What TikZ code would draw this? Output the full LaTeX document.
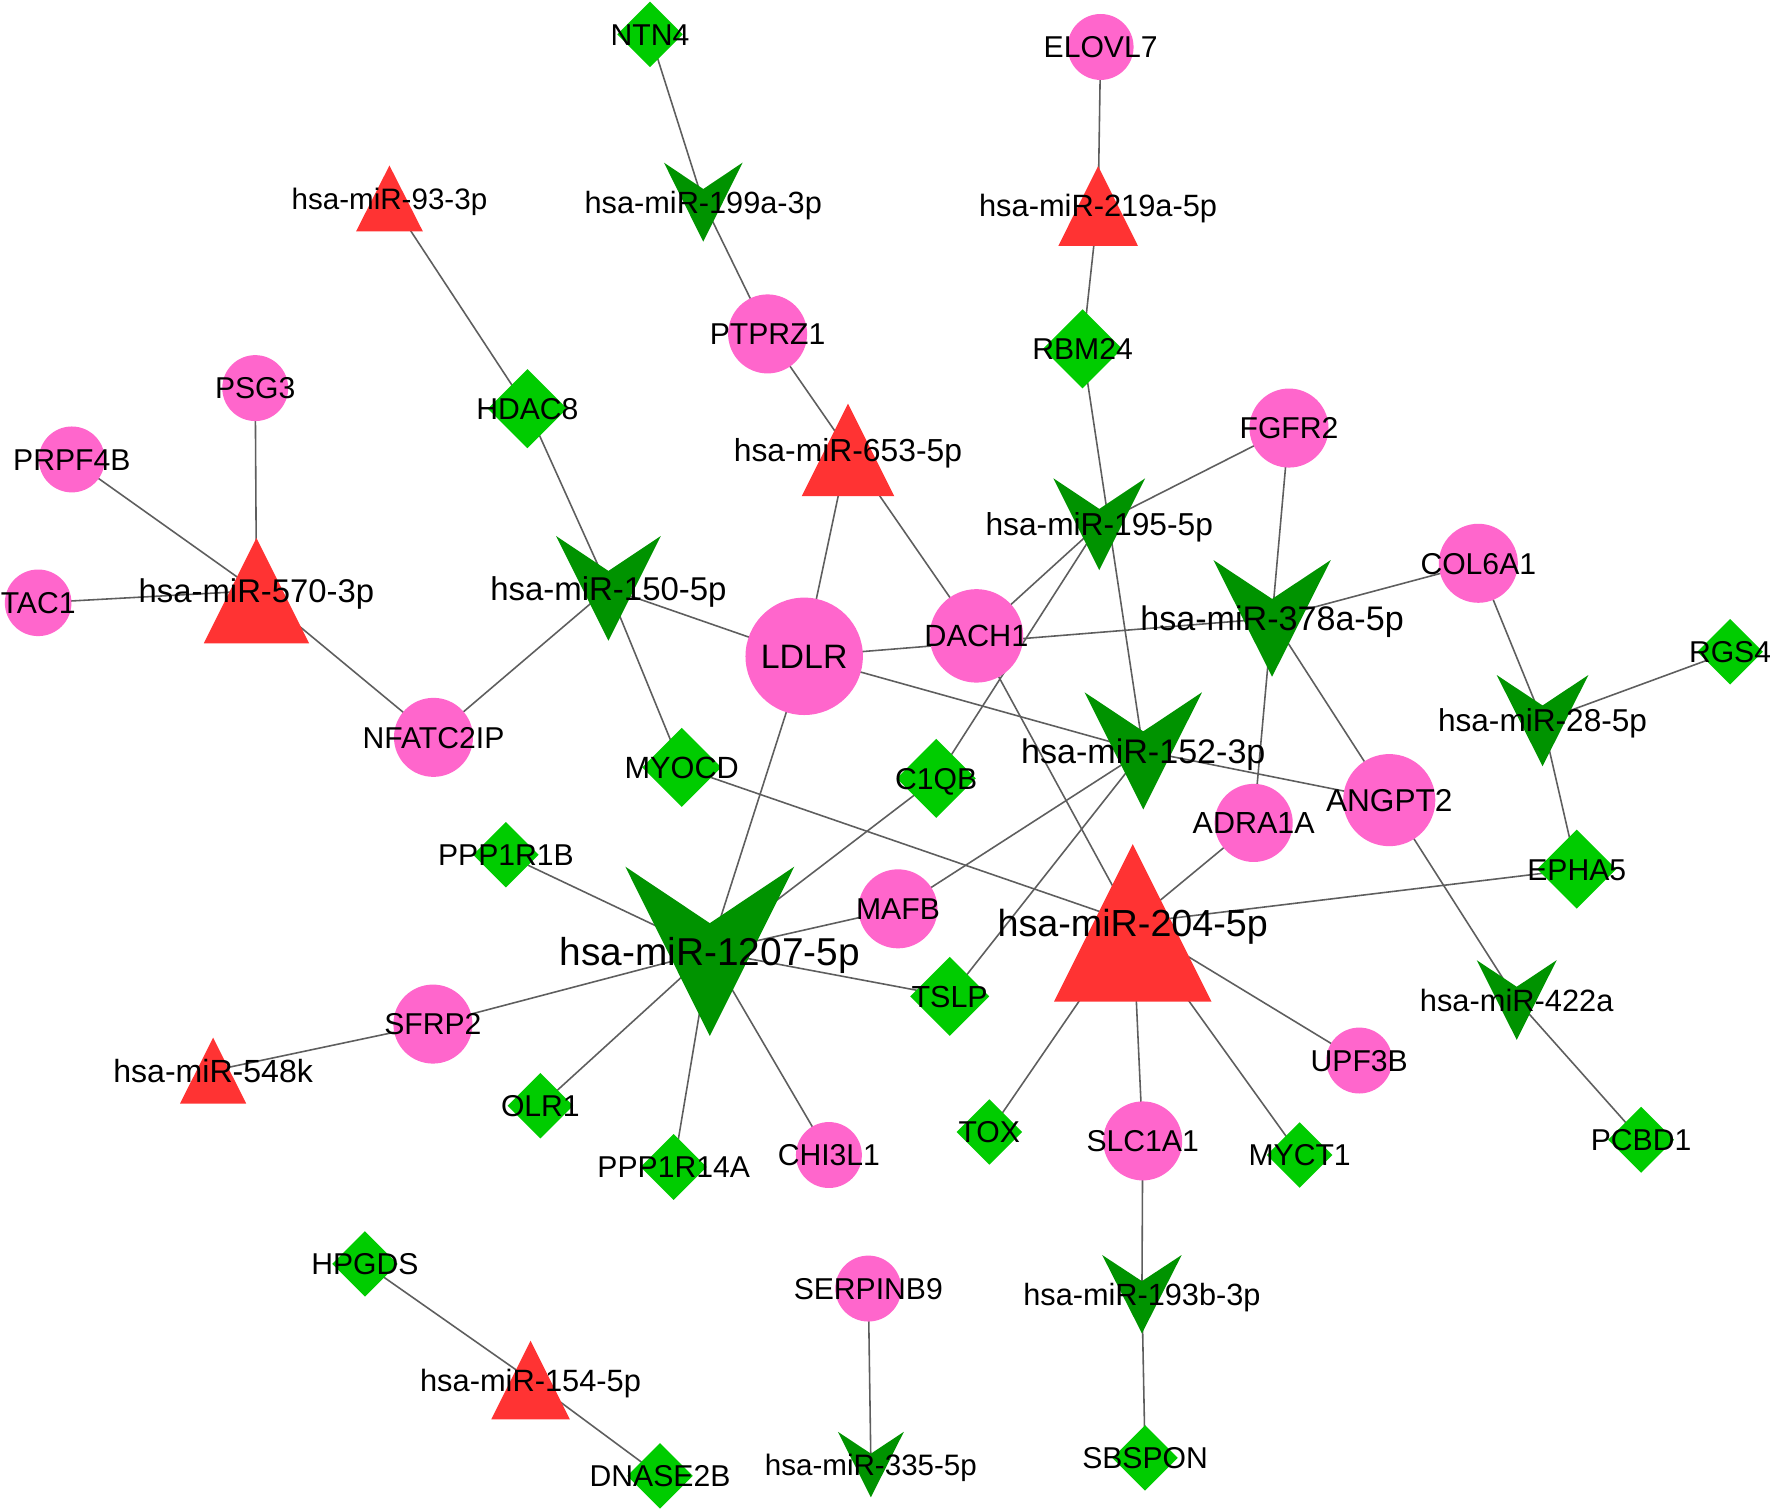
\documentclass[tikz,border=0pt]{standalone}
\usepackage{fontspec}
\setmainfont{Liberation Sans}
\pgfdeclarelayer{bglayer}
\pgfdeclarelayer{edgelayer}
\pgfdeclarelayer{shapelayer}
\pgfsetlayers{bglayer,edgelayer,shapelayer,main}
\definecolor{genepink}{HTML}{FF66CC}
\definecolor{diagreen}{HTML}{00CC00}
\definecolor{vgreen}{HTML}{009300}
\definecolor{trired}{HTML}{FF3333}
\definecolor{edgegray}{HTML}{5E5E5E}
\tikzset{
  lbl/.style={inner sep=0pt, text depth=0pt, text=black},
  genefill/.style={fill=genepink},
  diafill/.style={fill=diagreen},
  vfill/.style={fill=vgreen},
  trifill/.style={fill=trired},
  link/.style={draw=edgegray, line width=1.4pt},
}
\newcommand\fsz[1]{\fontsize{#1}{#1}\selectfont}
% name, x, y, radius, font size, label
\newcommand\Gene[6]{%
  \begin{pgfonlayer}{shapelayer}\fill[genefill] (#2,#3) circle[radius=#4pt];\end{pgfonlayer}
  \node[lbl,font=\fsz{#5},text height={0.716*#5pt}] (#1) at (#2,#3) {#6};}
% name, x, y, half size, font size, label
\newcommand\Dia[6]{%
  \begin{pgfonlayer}{shapelayer}\fill[diafill,shift={(#2,#3)}] (0,-#4) -- (#4,0) -- (0,#4) -- (-#4,0) -- cycle;\end{pgfonlayer}
  \node[lbl,font=\fsz{#5},text height={0.716*#5pt}] (#1) at (#2,#3) {#6};}
% name, x, y, half width, half height, font size, label
\newcommand\Tri[7]{%
  \begin{pgfonlayer}{shapelayer}\fill[trifill,shift={(#2,#3)}] (0,-#5) -- (#4,#5) -- (-#4,#5) -- cycle;\end{pgfonlayer}
  \node[lbl,font=\fsz{#6},text height={0.716*#6pt}] (#1) at (#2,#3) {#7};}
\newcommand\Vee[7]{%
  \begin{pgfonlayer}{shapelayer}\fill[vfill,shift={(#2,#3)}] (-#4,-#5) -- (0,{-#5/3}) -- (#4,-#5) -- (0,#5) -- cycle;\end{pgfonlayer}
  \node[lbl,font=\fsz{#6},text height={0.716*#6pt}] (#1) at (#2,#3) {#7};}

\begin{document}
\begin{tikzpicture}[x=1pt,y=-1pt]
\begin{pgfonlayer}{bglayer}
\fill[white] (0,0) rectangle (1568,1339);
\end{pgfonlayer}
\useasboundingbox (0,0) rectangle (1568,1339);

% genes (circles)
\Gene{elovl7}{975}{41.6}{29.2}{26.7}{ELOVL7}
\Gene{ptprz1}{680}{295.8}{35}{26.7}{PTPRZ1}
\Gene{psg3}{226.1}{343.8}{29.2}{26.7}{PSG3}
\Gene{prpf4b}{63.6}{407}{29.2}{26.7}{PRPF4B}
\Gene{tac1}{33.8}{534}{29.5}{26.7}{TAC1}
\Gene{fgfr2}{1141.9}{379.2}{35}{26.7}{FGFR2}
\Gene{col6a1}{1309.6}{499}{35}{26.7}{COL6A1}
\Gene{ldlr}{712.4}{581.4}{52}{30}{LDLR}
\Gene{dach1}{865}{563.3}{41.4}{27.2}{DACH1}
\Gene{nfatc2ip}{384}{653.2}{35}{26.7}{NFATC2IP}
\Gene{angpt2}{1230.7}{708.8}{40.8}{28}{ANGPT2}
\Gene{adra1a}{1110.6}{729}{34.6}{27}{ADRA1A}
\Gene{mafb}{795.5}{805.1}{35}{26.7}{MAFB}
\Gene{sfrp2}{383.5}{907.2}{35}{26.7}{SFRP2}
\Gene{upf3b}{1204.1}{939.5}{29.2}{26.7}{UPF3B}
\Gene{chi3l1}{734.3}{1023.2}{29.2}{26.7}{CHI3L1}
\Gene{slc1a1}{1012.3}{1010.7}{35}{26.7}{SLC1A1}
\Gene{serpinb9}{769.2}{1141.5}{29.2}{26.7}{SERPINB9}

% genes (diamonds)
\Dia{ntn4}{575.8}{30.5}{29}{26.7}{NTN4}
\Dia{rbm24}{959}{309}{35}{26.7}{RBM24}
\Dia{hdac8}{467.2}{362}{35}{26.7}{HDAC8}
\Dia{myocd}{603.9}{679.8}{35}{27.2}{MYOCD}
\Dia{c1qb}{829.4}{689.5}{35}{26.7}{C1QB}
\Dia{rgs4}{1532.6}{577.4}{29}{26.7}{RGS4}
\Dia{epha5}{1396.8}{770}{35}{26.7}{EPHA5}
\Dia{ppp1r1b}{448.2}{757.2}{29}{26.7}{PPP1R1B}
\Dia{tslp}{841.3}{882.7}{35}{27}{TSLP}
\Dia{olr1}{478.7}{979.5}{29}{26.7}{OLR1}
\Dia{ppp1r14a}{596.8}{1033.8}{29.2}{26.7}{PPP1R14A}
\Dia{tox}{876.4}{1002.8}{29}{26.7}{TOX}
\Dia{myct1}{1151.3}{1023.2}{29}{26.7}{MYCT1}
\Dia{pcbd1}{1453.8}{1009.7}{29.2}{26.7}{PCBD1}
\Dia{hpgds}{323.3}{1119.7}{29}{26.7}{HPGDS}
\Dia{dnase2b}{584.7}{1307.4}{29}{26.7}{DNASE2B}
\Dia{sbspon}{1014.4}{1291.5}{29}{26.7}{SBSPON}

% miRNAs (red triangles)
\Tri{m93}{345}{175.8}{29.6}{29.2}{26.2}{hsa-miR-93-3p}
\Tri{m219a}{972.8}{182.4}{35.2}{35.3}{27.3}{hsa-miR-219a-5p}
\Tri{m653}{751.2}{398.6}{41}{41}{28.2}{hsa-miR-653-5p}
\Tri{m570}{227.2}{523.3}{46.7}{46.7}{29.1}{hsa-miR-570-3p}
\Tri{m204}{1003.5}{817.6}{69.8}{69.8}{33.4}{hsa-miR-204-5p}
\Tri{m548k}{188.8}{948.4}{29.3}{29.2}{28.4}{hsa-miR-548k}
\Tri{m154}{470}{1222.5}{34.8}{34.8}{27.3}{hsa-miR-154-5p}

% miRNAs (V shapes)
\Vee{m199a}{623}{179.1}{34.8}{35}{27.2}{hsa-miR-199a-3p}
\Vee{m195}{973.8}{464.4}{40.7}{40.7}{28.1}{hsa-miR-195-5p}
\Vee{m150}{539}{521.2}{46.4}{46.4}{29.2}{hsa-miR-150-5p}
\Vee{m378a}{1126.9}{547.8}{52}{51.7}{30.2}{hsa-miR-378a-5p}
\Vee{m28}{1366.5}{638.4}{40.6}{40.4}{28}{hsa-miR-28-5p}
\Vee{m152}{1012.8}{665.2}{52}{51.9}{30.2}{hsa-miR-152-3p}
\Vee{m1207}{628.8}{842.8}{74.8}{75}{34.4}{hsa-miR-1207-5p}
\Vee{m422a}{1343.6}{885.9}{35.4}{35.3}{27.3}{hsa-miR-422a}
\Vee{m193b}{1011.6}{1146.5}{35.2}{34.7}{27.2}{hsa-miR-193b-3p}
\Vee{m335}{771.5}{1297.4}{29.2}{29}{26.2}{hsa-miR-335-5p}

\begin{pgfonlayer}{edgelayer}
\foreach \a/\b in {ntn4/m199a, m199a/ptprz1, ptprz1/m653, m653/ldlr, m653/dach1,
  elovl7/m219a, m219a/rbm24, rbm24/m152,
  m93/hdac8, hdac8/m150, m150/myocd, m150/ldlr, m150/nfatc2ip,
  psg3/m570, prpf4b/m570, tac1/m570, m570/nfatc2ip,
  fgfr2/m195, fgfr2/m378a, m195/dach1, m195/c1qb,
  col6a1/m378a, col6a1/m28, rgs4/m28, m28/epha5,
  ldlr/m378a, m378a/adra1a, m378a/angpt2,
  ldlr/m152, m152/angpt2, m152/mafb, m152/tslp,
  ldlr/m1207, c1qb/m1207, ppp1r1b/m1207, mafb/m1207, tslp/m1207, sfrp2/m1207,
  olr1/m1207, ppp1r14a/m1207, chi3l1/m1207,
  dach1/m204, myocd/m204, adra1a/m204, epha5/m204, upf3b/m204, tox/m204,
  slc1a1/m204, myct1/m204,
  angpt2/m422a, m422a/pcbd1, sfrp2/m548k,
  slc1a1/m193b, m193b/sbspon, hpgds/m154, m154/dnase2b, serpinb9/m335}
  \draw[link] (\a.center) -- (\b.center);
\end{pgfonlayer}
\end{tikzpicture}
\end{document}
